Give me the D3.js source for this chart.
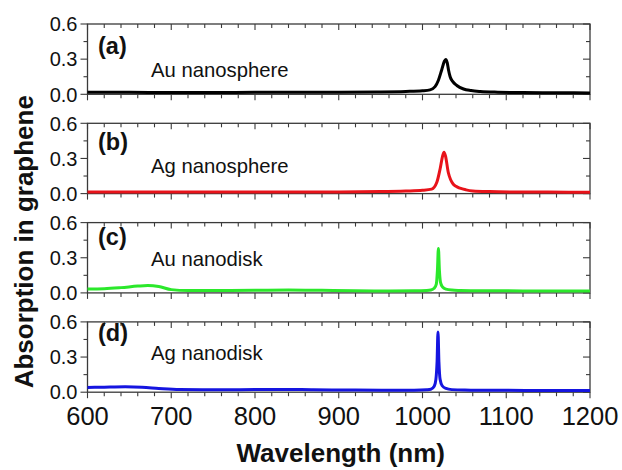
<!DOCTYPE html>
<html>
<head>
<meta charset="utf-8">
<script src="https://cdn.jsdelivr.net/npm/d3@7"></script>
<style>
  html, body { margin: 0; padding: 0; background: #fff; }
  svg { display: block; font-family: "Liberation Sans", Arial, sans-serif; }
</style>
</head>
<body>
<svg id="chart" width="622" height="470"></svg>
<script>
// Absorption spectra in graphene for four plasmonic nanostructures.

// (a) Au nanosphere
const auSphereWl  = [600, 650, 700, 750, 800, 850, 900, 950, 980, 1000, 1009, 1015, 1019, 1023, 1026, 1027.7, 1029.5, 1031, 1033, 1036, 1041, 1049, 1058, 1069, 1090, 1120, 1160, 1200];
const auSphereAbs = [0.018, 0.017, 0.016, 0.016, 0.017, 0.018, 0.018, 0.020, 0.024, 0.030, 0.038, 0.065, 0.12, 0.21, 0.28, 0.298, 0.27, 0.21, 0.15, 0.11, 0.075, 0.045, 0.032, 0.024, 0.018, 0.015, 0.013, 0.012];

// (b) Ag nanosphere
const agSphereWl  = [600, 700, 800, 900, 950, 980, 1000, 1011, 1017, 1021, 1024, 1025.7, 1027.5, 1030.8, 1033.5, 1036.8, 1040, 1044.8, 1052, 1060, 1080, 1110, 1150, 1200];
const agSphereAbs = [0.014, 0.013, 0.013, 0.014, 0.017, 0.022, 0.028, 0.038, 0.094, 0.21, 0.32, 0.353, 0.32, 0.18, 0.12, 0.08, 0.062, 0.046, 0.032, 0.023, 0.017, 0.014, 0.013, 0.012];

// (c) Au nanodisk
const auDiskWl  = [600, 620, 640, 660, 672, 685, 700, 720, 760, 800, 840, 880, 920, 960, 990, 1005, 1010, 1014, 1016.5, 1017.8, 1019, 1020.2, 1021.5, 1024, 1028, 1035, 1045, 1060, 1080, 1120, 1160, 1200];
const auDiskAbs = [0.034, 0.036, 0.045, 0.058, 0.063, 0.055, 0.028, 0.020, 0.020, 0.022, 0.025, 0.022, 0.018, 0.017, 0.018, 0.021, 0.025, 0.040, 0.075, 0.19, 0.38, 0.19, 0.09, 0.05, 0.032, 0.024, 0.021, 0.019, 0.018, 0.017, 0.016, 0.016];

// (d) Ag nanodisk
const agDiskWl  = [600, 620, 645, 665, 685, 710, 750, 800, 830, 870, 920, 960, 990, 1005, 1010, 1014, 1016, 1017.4, 1018.5, 1019.6, 1021, 1023.5, 1028, 1035, 1050, 1070, 1100, 1150, 1200];
const agDiskAbs = [0.040, 0.043, 0.046, 0.043, 0.032, 0.022, 0.020, 0.022, 0.024, 0.021, 0.018, 0.016, 0.017, 0.021, 0.025, 0.050, 0.11, 0.26, 0.513, 0.26, 0.11, 0.055, 0.032, 0.022, 0.018, 0.017, 0.016, 0.015, 0.015];

const panelLetters = ["(a)", "(b)", "(c)", "(d)"];
const panelNames   = ["Au nanosphere", "Ag nanosphere", "Au nanodisk", "Ag nanodisk"];
const yTickValues  = [0.0, 0.3, 0.6];
const xTickValues  = [600, 700, 800, 900, 1000, 1100, 1200];
const xTitle = "Wavelength (nm)";
const yTitle = "Absorption in graphene";

const series = [
  { wl: auSphereWl, abs: auSphereAbs },
  { wl: agSphereWl, abs: agSphereAbs },
  { wl: auDiskWl,   abs: auDiskAbs },
  { wl: agDiskWl,   abs: agDiskAbs }
];

// Layout and styling
const colors = ["#000000", "#e8131a", "#2be82b", "#1515e0"];
const left = 87.5, right = 590;
const panelTop0 = 24, panelStep = 99.3, panelH = 70.3;
const letterBaseline = [54, 149.5, 245, 341];
const nameBaseline   = [77.3, 173.3, 265.7, 360];
const frameColor = "#3a3a3a";

const svg = d3.select("#chart");
const x = d3.scaleLinear().domain([600, 1200]).range([left, right]);

series.forEach((s, i) => {
  const top = panelTop0 + i * panelStep;
  const bottom = top + panelH;
  const y = d3.scaleLinear().domain([0, 0.6]).range([bottom, top]);
  const g = svg.append("g");

  // x ticks: bottom outward, top inward (both pointing down)
  const xMinor = d3.range(600, 1200.1, 20);
  xMinor.forEach(v => {
    const major = Math.abs(v % 100) < 1e-6;
    const len = major ? 6 : 4;
    g.append("line").attr("x1", x(v)).attr("x2", x(v))
      .attr("y1", bottom).attr("y2", bottom + len)
      .attr("stroke", frameColor).attr("stroke-width", 1.1);
    g.append("line").attr("x1", x(v)).attr("x2", x(v))
      .attr("y1", top).attr("y2", top + len)
      .attr("stroke", frameColor).attr("stroke-width", 1.1);
  });

  // y ticks: left outward, right inward
  const yMinor = d3.range(0, 0.61, 0.15);
  yMinor.forEach((v, k) => {
    const major = k % 2 === 0;
    const len = major ? 7 : 4;
    g.append("line").attr("x1", left - len).attr("x2", left)
      .attr("y1", y(v)).attr("y2", y(v))
      .attr("stroke", frameColor).attr("stroke-width", 1.1);
    g.append("line").attr("x1", right - len).attr("x2", right)
      .attr("y1", y(v)).attr("y2", y(v))
      .attr("stroke", frameColor).attr("stroke-width", 1.1);
  });

  // frame
  g.append("rect").attr("x", left).attr("y", top)
    .attr("width", right - left).attr("height", panelH)
    .attr("fill", "none").attr("stroke", frameColor).attr("stroke-width", 1.3);

  // y tick labels
  yTickValues.forEach(v => {
    g.append("text").attr("x", left - 10).attr("y", y(v))
      .attr("dy", "0.36em").attr("text-anchor", "end")
      .attr("font-size", 20).attr("fill", "#111")
      .text(d3.format(".1f")(v));
  });

  // spectrum
  const pts = s.wl.map((w, k) => [w, s.abs[k]]);
  const line = d3.line().x(d => x(d[0])).y(d => y(d[1])).curve(d3.curveMonotoneX);
  g.append("path").datum(pts).attr("d", line)
    .attr("fill", "none").attr("stroke", colors[i])
    .attr("stroke-width", 3).attr("stroke-linejoin", "round");

  // panel labels
  g.append("text").attr("x", 98).attr("y", letterBaseline[i])
    .attr("font-size", 23.5).attr("font-weight", "bold").attr("fill", "#111")
    .text(panelLetters[i]);
  g.append("text").attr("x", 151).attr("y", nameBaseline[i])
    .attr("font-size", 20.3).attr("fill", "#111")
    .text(panelNames[i]);

  // x tick labels on the lowest panel
  if (i === series.length - 1) {
    xTickValues.forEach(v => {
      g.append("text").attr("x", x(v)).attr("y", 425)
        .attr("text-anchor", "middle").attr("font-size", 25.5).attr("fill", "#111")
        .text(v);
    });
  }
});

// axis titles
svg.append("text").attr("x", (left + right) / 2 + 2).attr("y", 462)
  .attr("text-anchor", "middle").attr("font-size", 26).attr("font-weight", "bold")
  .attr("fill", "#111").text(xTitle);

svg.append("text")
  .attr("transform", "translate(33,241.7) rotate(-90)")
  .attr("text-anchor", "middle").attr("font-size", 26).attr("font-weight", "bold")
  .attr("fill", "#111").text(yTitle);
</script>
</body>
</html>
